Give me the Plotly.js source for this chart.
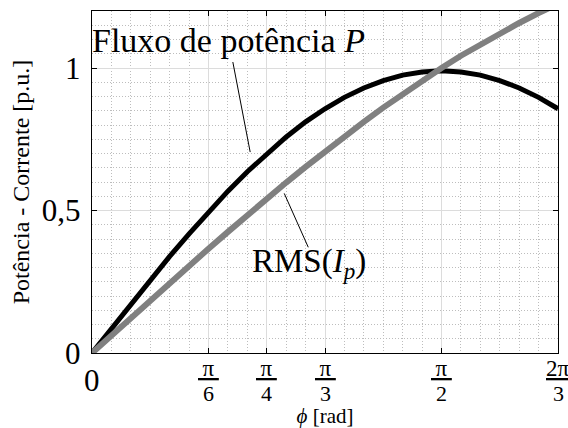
<!DOCTYPE html>
<html>
<head>
<meta charset="utf-8">
<script src="https://cdn.plot.ly/plotly-3.0.1.min.js"></script>
<style>html,body{margin:0;padding:0;background:#fff;}#chart{width:568px;height:428px;}</style>
</head>
<body>
<div id="chart"></div>
<script>
// phase shift samples (degrees) and the two curves
var phiDeg = [0,5,10,15,20,25,30,35,40,45,50,55,60,65,70,75,80,85,90,95,100,105,110,115,120];
var powerP = [0,0.086,0.172,0.256,0.339,0.418,0.495,0.568,0.636,0.700,0.758,0.811,0.857,0.897,0.930,0.956,0.975,0.986,0.990,0.986,0.975,0.956,0.930,0.897,0.857];
var rmsIp  = [0,0.062,0.123,0.185,0.246,0.306,0.366,0.425,0.484,0.541,0.598,0.653,0.707,0.760,0.811,0.861,0.909,0.955,1.000,1.043,1.083,1.122,1.158,1.193,1.225];

// x tick labels (fractions of pi)
var xTickVals = [0, Math.PI/6, Math.PI/4, Math.PI/3, Math.PI/2, 2*Math.PI/3];
var xTickNum  = ['0', 'π', 'π', 'π', 'π', '2π'];
var xTickDen  = ['', '6', '4', '3', '2', '3'];

// y tick labels
var yTickVals = [0, 0.5, 1];
var yTickText = ['0', '0,5', '1'];

var labelP = 'Fluxo de potência <i>P</i>';
var labelI = 'RMS(<i>I</i><sub><i>p</i></sub>)';

var phi = phiDeg.map(function(d){ return d*Math.PI/180; });
var FONT = 'Liberation Serif, Times New Roman, serif';

var traces = [
  {x: phi, y: powerP, type: 'scatter', mode: 'lines', line: {color: '#000000', width: 5}, hoverinfo: 'skip'},
  {x: phi, y: rmsIp, type: 'scatter', mode: 'lines', line: {color: '#808080', width: 6}, hoverinfo: 'skip'}
];

var annotations = [
  {x: 0.612, y: 1.095, xref: 'x', yref: 'y', text: labelP, showarrow: false, font: {family: FONT, size: 34, color: '#000'}},
  {x: 0.975, y: 0.315, xref: 'x', yref: 'y', text: labelI, showarrow: false, font: {family: FONT, size: 33, color: '#000'}}
];
xTickVals.forEach(function(v, i){
  if (xTickDen[i] === '') {
    annotations.push({x: v, y: 0, xref: 'x', yref: 'paper', yanchor: 'middle', yshift: -27, borderpad: 0, borderwidth: 0,
      text: xTickNum[i], showarrow: false, font: {family: FONT, size: 31, color: '#000'}});
  } else {
    var num = xTickNum[i].length === 1 ? '\u2009' + xTickNum[i] + '\u2009' : xTickNum[i];
    annotations.push({x: v, y: 0, xref: 'x', yref: 'paper', yanchor: 'bottom', yshift: -28, borderpad: 0, borderwidth: 0,
      text: '<u>' + num + '</u>', showarrow: false, font: {family: FONT, size: 23, color: '#000'}});
    annotations.push({x: v, y: 0, xref: 'x', yref: 'paper', yanchor: 'top', yshift: -28, borderpad: 0, borderwidth: 0,
      text: xTickDen[i], showarrow: false, font: {family: FONT, size: 22, color: '#000'}});
  }
});

var shapes = [
  {type: 'line', xref: 'x', yref: 'y', x0: 0.633, y0: 1.021, x1: 0.711, y1: 0.705, line: {color: '#000', width: 1}},
  {type: 'line', xref: 'x', yref: 'y', x0: 0.864, y0: 0.560, x1: 0.972, y1: 0.371, line: {color: '#000', width: 1}}
];

var layout = {
  width: 568, height: 428,
  margin: {l: 92, r: 10, t: 11, b: 75},
  paper_bgcolor: '#ffffff', plot_bgcolor: '#ffffff',
  showlegend: false,
  font: {family: FONT, color: '#000'},
  xaxis: {
    range: [0, 2*Math.PI/3],
    tickmode: 'array', tickvals: xTickVals, showticklabels: false,
    ticks: 'inside', ticklen: 5, tickcolor: '#000', tickwidth: 1,
    showline: true, linecolor: '#000', linewidth: 1.3, mirror: 'ticks',
    showgrid: true, gridcolor: '#dcdcdc', gridwidth: 1, zeroline: false,
    minor: {tick0: 0, dtick: Math.PI/36, showgrid: true, gridcolor: '#bdbdbd', griddash: '1px,2px', gridwidth: 1, ticks: ''},
    title: {text: '<i>ϕ</i> [rad]', font: {family: FONT, size: 21, color: '#000'}, standoff: 60}
  },
  yaxis: {
    range: [0, 1.2],
    tickmode: 'array', tickvals: yTickVals, ticktext: yTickText,
    tickfont: {family: FONT, size: 31, color: '#000'},
    ticks: 'inside', ticklen: 5, tickcolor: '#000', tickwidth: 1, ticklabelstandoff: 4,
    showline: true, linecolor: '#000', linewidth: 1.3, mirror: 'ticks',
    showgrid: true, gridcolor: '#dcdcdc', gridwidth: 1, zeroline: false,
    minor: {tick0: 0, dtick: 0.05, showgrid: true, gridcolor: '#bdbdbd', griddash: '1px,2px', gridwidth: 1, ticks: ''},
    title: {text: 'Potência - Corrente [p.u.]', font: {family: FONT, size: 24, color: '#000'}, standoff: 5}
  },
  annotations: annotations,
  shapes: shapes
};

Plotly.newPlot('chart', traces, layout, {staticPlot: true, displayModeBar: false});
</script>
</body>
</html>
